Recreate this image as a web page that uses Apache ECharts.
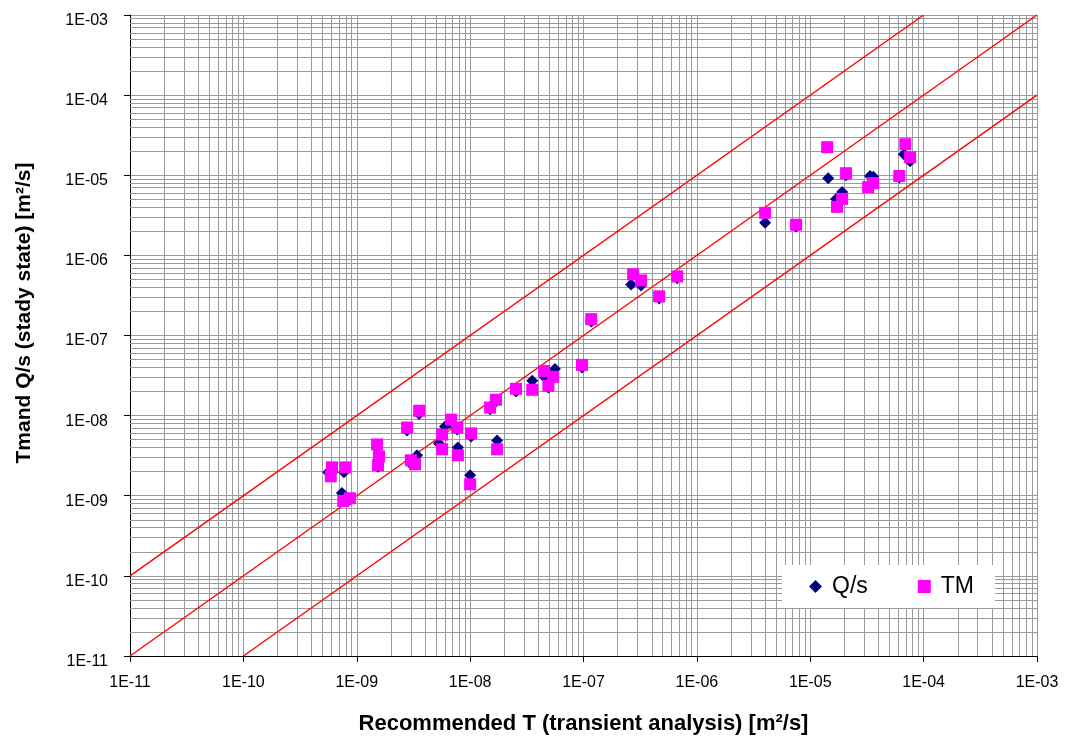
<!DOCTYPE html>
<html><head><meta charset="utf-8">
<script src="https://cdn.jsdelivr.net/npm/echarts@6/dist/echarts.min.js"></script>
<style>html,body{margin:0;padding:0;background:#fff}#c{width:1069px;height:740px}</style>
</head><body><div id="c"></div>
<script>
// Q/s series: Recommended T (x) vs Tmand Q/s (y)
const qsT = [5.6e-10,7.7e-10,7.4e-10,8.7e-10,1.51e-9,1.57e-9,1.54e-9,2.78e-9,3.55e-9,3.4e-9,3.0e-9,6.0e-9,5.3e-9,6.8e-9,7.7e-9,7.8e-9,1.02e-8,1.0e-8,1.73e-8,1.5e-8,1.69e-8,2.54e-8,3.53e-8,4.6e-8,5.6e-8,4.9e-8,9.7e-8,1.17e-7,2.63e-7,3.22e-7,4.65e-7,6.7e-7,4.0e-6,7.5e-6,1.44e-5,2.07e-5,1.91e-5,1.69e-5,3.37e-5,3.6e-5,6.1e-5,6.7e-5,7.6e-5];
const qsQ = [1.96e-9,1.96e-9,1.08e-9,9.0e-10,4.0e-9,2.9e-9,2.3e-9,6.5e-9,1.05e-8,3.2e-9,2.5e-9,7.3e-9,4.5e-9,8.2e-9,6.7e-9,4.0e-9,5.5e-9,1.8e-9,4.9e-9,1.2e-8,1.5e-8,2.0e-8,2.72e-8,2.96e-8,3.83e-8,2.25e-8,4.0e-8,1.5e-7,4.34e-7,4.2e-7,2.9e-7,5.2e-7,2.55e-6,2.3e-6,9.2e-6,1.0e-5,6.2e-6,5.07e-6,9.8e-6,9.6e-6,9.4e-6,1.83e-5,1.5e-5];
// TM series
const tmT = [6.05e-10,7.9e-10,5.9e-10,7.6e-10,8.7e-10,1.51e-9,1.57e-9,1.54e-9,2.78e-9,3.55e-9,3.0e-9,3.27e-9,5.66e-9,5.66e-9,6.8e-9,7.7e-9,7.8e-9,1.02e-8,1.0e-8,1.73e-8,1.5e-8,1.69e-8,2.54e-8,3.53e-8,4.5e-8,4.9e-8,5.4e-8,9.7e-8,1.17e-7,2.74e-7,3.22e-7,4.65e-7,6.7e-7,4.0e-6,7.5e-6,1.41e-5,2.07e-5,1.91e-5,1.72e-5,3.59e-5,3.24e-5,6.1e-5,6.9e-5,7.6e-5];
const tmQ = [2.26e-9,2.26e-9,1.75e-9,8.6e-10,9.3e-10,4.37e-9,3.1e-9,2.4e-9,7.1e-9,1.15e-8,2.77e-9,2.47e-9,5.8e-9,3.8e-9,8.9e-9,7.1e-9,3.2e-9,6.0e-9,1.39e-9,3.8e-9,1.26e-8,1.58e-8,2.16e-8,2.1e-8,3.6e-8,2.36e-8,3.05e-8,4.3e-8,1.6e-7,5.8e-7,4.87e-7,3.08e-7,5.46e-7,3.4e-6,2.41e-6,2.24e-5,1.06e-5,5.07e-6,4.03e-6,8.0e-6,7.1e-6,9.8e-6,2.44e-5,1.68e-5];
// Reference lines: y = 10x, y = x, y = x/10
const upperLineT = [1e-11, 1e-4], upperLineQ = [1e-10, 1e-3];
const equalLineT = [1e-11, 1e-3], equalLineQ = [1e-11, 1e-3];
const lowerLineT = [1e-10, 1e-3], lowerLineQ = [1e-11, 1e-4];
// Axis decades and minor multipliers
const decades = [-11,-10,-9,-8,-7,-6,-5,-4];
const minorMult = [2,3,4,5,6,7,8,9];
const axisMin = 1e-11, axisMax = 1e-3;

const zip = (a, b) => a.map((v, i) => [v, b[i]]);
const minorVals = [];
decades.forEach(d => minorMult.forEach(m => minorVals.push(m * Math.pow(10, d))));

const fmt = v => {
  const e = Math.round(Math.log10(v));
  const a = Math.abs(e);
  return '1E' + (e < 0 ? '-' : '+') + (a < 10 ? '0' + a : '' + a);
};
const FONT = 'Liberation Sans, Arial, sans-serif';
const gridColor = '#9a9a9a';

const chart = echarts.init(document.getElementById('c'), null, {renderer: 'canvas'});
const refLine = (t, q) => ({
  type: 'line', data: zip(t, q), symbol: 'none', silent: true, z: 3,
  lineStyle: {color: '#ff0000', width: 1.4}, legendHoverLink: false, clip: true
});
const minorGrid = minorVals.map(v => ({coords: [[v, axisMin], [v, axisMax]]}))
  .concat(minorVals.map(v => ({coords: [[axisMin, v], [axisMax, v]]})));
chart.setOption({
  animation: false,
  backgroundColor: '#fff',
  grid: {left: 130, top: 15, right: 32, bottom: 80, containLabel: false},
  legend: {
    data: [{name: 'Q/s', icon: 'diamond'}, {name: 'TM', icon: 'rect'}],
    left: 782, top: 565, orient: 'horizontal',
    backgroundColor: '#ffffff', borderWidth: 0,
    padding: [10, 21, 10, 27],
    itemWidth: 13, itemHeight: 13, itemGap: 50,
    textStyle: {fontFamily: FONT, fontSize: 23, color: '#000', padding: [0, 0, 0, 5]}
  },
  xAxis: {
    type: 'log', logBase: 10, min: axisMin, max: axisMax, splitNumber: 8,
    name: 'Recommended T (transient analysis) [m²/s]', nameLocation: 'middle', nameGap: 57,
    nameTextStyle: {fontFamily: FONT, fontSize: 22, fontWeight: 'bold', color: '#000'},
    axisLine: {onZero: false, lineStyle: {color: '#000', width: 1}},
    axisTick: {show: true, inside: false, length: 6, lineStyle: {color: '#000'}},
    axisLabel: {formatter: fmt, fontFamily: FONT, fontSize: 16, color: '#000', margin: 19, showMinLabel: true, showMaxLabel: true},
    splitLine: {show: true, lineStyle: {color: gridColor, width: 1}},
    minorTick: {show: false}, minorSplitLine: {show: false}
  },
  yAxis: {
    type: 'log', logBase: 10, min: axisMin, max: axisMax, splitNumber: 8,
    name: 'Tmand Q/s (stady state) [m²/s]', nameLocation: 'middle', nameGap: 95, nameRotate: 90,
    nameTextStyle: {fontFamily: FONT, fontSize: 21, fontWeight: 'bold', color: '#000', padding: [0, 0, 0, 45]},
    axisLine: {show: true, onZero: false, lineStyle: {color: '#000', width: 1}},
    axisTick: {show: true, inside: false, length: 6, lineStyle: {color: '#000'}},
    axisLabel: {formatter: fmt, fontFamily: FONT, fontSize: 16, color: '#000', margin: 22,
      verticalAlign: 'top', lineHeight: 11, showMinLabel: true, showMaxLabel: true},
    splitLine: {show: true, lineStyle: {color: gridColor, width: 1}},
    minorTick: {show: false}, minorSplitLine: {show: false}
  },
  series: [
    {
      type: 'lines', coordinateSystem: 'cartesian2d', silent: true, z: 1,
      polyline: false, symbol: 'none', effect: {show: false},
      lineStyle: {color: gridColor, width: 1, opacity: 1, curveness: 0},
      data: minorGrid
    },
    refLine(upperLineT, upperLineQ),
    refLine(equalLineT, equalLineQ),
    refLine(lowerLineT, lowerLineQ),
    {
      name: 'Q/s', type: 'scatter', symbol: 'diamond', symbolSize: 12, z: 5,
      itemStyle: {color: '#000080', opacity: 1}, data: zip(qsT, qsQ)
    },
    {
      name: 'TM', type: 'scatter', symbol: 'rect', symbolSize: 12, z: 6,
      itemStyle: {color: '#ff00ff', opacity: 1}, data: zip(tmT, tmQ)
    }
  ]
});
</script></body></html>
